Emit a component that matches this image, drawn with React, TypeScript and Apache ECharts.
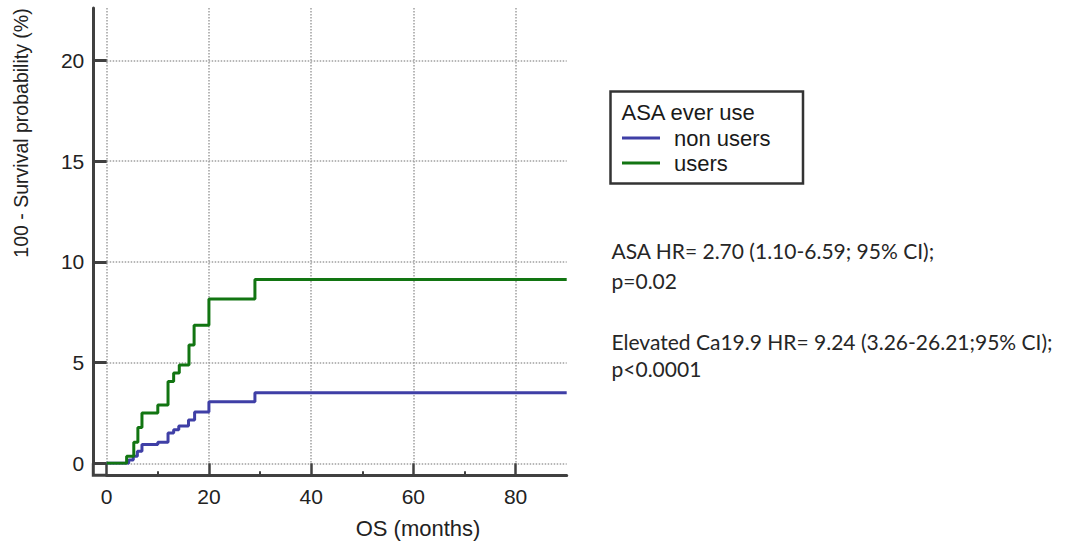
import React, { useEffect, useRef } from "react";
import * as echarts from "echarts";

// ---- data ----
const xTicks = [0, 20, 40, 60, 80];
const xMinorTicks = [10, 30, 50, 70];
const yTicks = [0, 5, 10, 15, 20];

const seriesNames = ["non users", "users"];
const nonUsersT = [0, 4.3, 5.2, 6.0, 6.9, 10.0, 12.0, 13.1, 14.1, 16.0, 17.2, 20.0, 29.0, 90];
const nonUsersV = [0, 0.17, 0.35, 0.6, 0.93, 1.05, 1.5, 1.66, 1.85, 2.15, 2.55, 3.06, 3.5, 3.5];
const usersT = [0, 3.9, 5.3, 6.1, 6.9, 10.0, 12.0, 13.1, 14.2, 16.1, 17.1, 20.0, 29.0, 90];
const usersV = [0, 0.35, 1.05, 1.78, 2.5, 2.9, 4.06, 4.48, 4.88, 5.87, 6.85, 8.16, 9.12, 9.12];

const statLines = [
  "ASA HR= 2.70 (1.10-6.59; 95% CI);",
  "p=0.02",
  "Elevated Ca19.9 HR= 9.24 (3.26-26.21;95% CI);",
  "p<0.0001",
];

const W = 1066;
const H = 546;
const GRID_LEFT = 106.7;
const GRID_TOP = 8;
const GRID_RIGHT_X = 566.7;
const GRID_BOTTOM_Y = 463.3;
const Y_OFFSET = 13.4;
const X_OFFSET = 12;
const AXIS_COLOR = "#404040";
const FONT = "'Liberation Sans', Arial, sans-serif";

export default function App() {
  const ref = useRef<HTMLDivElement>(null);

  useEffect(() => {
    if (!ref.current) return;
    const chart = echarts.init(ref.current, undefined, { renderer: "svg" });
    const zip = (t: number[], v: number[]) => t.map((x, i) => [x, v[i]]);
    const gridColor = "#a0a0a0";
    const split = (n: number) => {
      const arr: string[] = [];
      for (let i = 0; i < n; i++) arr.push(gridColor);
      arr.push("rgba(0,0,0,0)");
      return arr;
    };
    const yAxisX = GRID_LEFT - Y_OFFSET;
    const xAxisY = GRID_BOTTOM_Y + X_OFFSET;

    chart.setOption({
      animation: false,
      backgroundColor: "#ffffff",
      grid: {
        left: GRID_LEFT,
        top: GRID_TOP,
        right: W - GRID_RIGHT_X,
        bottom: H - GRID_BOTTOM_Y,
        containLabel: false,
      },
      xAxis: [
        {
          type: "value",
          min: 0,
          max: 90,
          interval: 20,
          offset: X_OFFSET,
          axisLine: { show: true, onZero: false, lineStyle: { color: AXIS_COLOR, width: 3 } },
          axisTick: {
            show: true,
            inside: true,
            length: X_OFFSET,
            customValues: xTicks,
            lineStyle: { color: AXIS_COLOR, width: 2.5 },
          },
          axisLabel: {
            customValues: xTicks,
            margin: 11,
            color: "#222",
            fontSize: 21,
            fontFamily: FONT,
          },
          splitLine: {
            show: true,
            lineStyle: { color: split(xTicks.length), width: 1.5, type: [1.5, 1.5] },
          },
        },
        {
          type: "value",
          min: 0,
          max: 90,
          position: "bottom",
          offset: X_OFFSET,
          axisLine: { show: false, onZero: false },
          axisTick: {
            show: true,
            inside: true,
            length: 4,
            customValues: xMinorTicks,
            lineStyle: { color: AXIS_COLOR, width: 2 },
          },
          axisLabel: { show: false },
          splitLine: { show: false },
        },
      ],
      yAxis: {
        type: "value",
        min: 0,
        max: 22.6,
        interval: 5,
        offset: Y_OFFSET,
        axisLine: { show: true, onZero: false, lineStyle: { color: AXIS_COLOR, width: 3 } },
        axisTick: {
          show: true,
          inside: true,
          length: Y_OFFSET,
          customValues: yTicks,
          lineStyle: { color: AXIS_COLOR, width: 3 },
        },
        axisLabel: {
          customValues: yTicks,
          margin: 9,
          color: "#222",
          fontSize: 21,
          fontFamily: FONT,
        },
        splitLine: {
          show: true,
          lineStyle: { color: split(yTicks.length), width: 1.5, type: [1.5, 1.5] },
        },
      },
      legend: {
        orient: "vertical",
        left: 622,
        top: 127,
        itemWidth: 38,
        itemHeight: 3,
        itemGap: 3,
        icon: "rect",
        padding: 0,
        textStyle: {
          fontSize: 22,
          fontFamily: FONT,
          color: "#1a1a1a",
          padding: [0, 0, 0, 9],
        },
        data: seriesNames,
      },
      series: [
        {
          name: seriesNames[0],
          type: "line",
          step: "end",
          showSymbol: false,
          data: zip(nonUsersT, nonUsersV),
          color: "#3f3fa6",
          lineStyle: { color: "#3f3fa6", width: 3 },
          z: 3,
        },
        {
          name: seriesNames[1],
          type: "line",
          step: "end",
          showSymbol: false,
          data: zip(usersT, usersV),
          color: "#127512",
          lineStyle: { color: "#127512", width: 3 },
          z: 4,
        },
      ],
      graphic: [
        {
          type: "polyline",
          shape: {
            points: [
              [yAxisX, GRID_BOTTOM_Y],
              [yAxisX, xAxisY],
              [GRID_LEFT, xAxisY],
            ],
          },
          style: { stroke: AXIS_COLOR, lineWidth: 3, fill: "none" },
          z: 10,
        },
        {
          type: "text",
          x: 21,
          y: 133,
          rotation: Math.PI / 2,
          style: {
            text: "100 - Survival probability (%)",
            fill: "#222",
            font: `19.5px ${FONT}`,
            align: "center",
            verticalAlign: "middle",
          },
        },
        {
          type: "text",
          x: 418,
          y: 528,
          style: {
            text: "OS (months)",
            fill: "#222",
            font: `22px ${FONT}`,
            align: "center",
            verticalAlign: "middle",
          },
        },
        {
          type: "rect",
          shape: { x: 610.5, y: 91.5, width: 192.5, height: 92 },
          style: { fill: "#fff", stroke: "#333", lineWidth: 2.5 },
          z: 0,
        },
        {
          type: "text",
          x: 621.5,
          y: 112,
          style: {
            text: "ASA ever use",
            fill: "#1a1a1a",
            font: `22px ${FONT}`,
            align: "left",
            verticalAlign: "middle",
          },
          z: 5,
        },
        ...statLines.map((t, i) => ({
          type: "text",
          x: 611.5,
          y: [250, 280, 341.5, 368.5][i],
          style: {
            text: t,
            fill: "#262626",
            font: `21px Lato, 'Open Sans', sans-serif`,
            align: "left",
            verticalAlign: "middle",
          },
        })),
      ],
    });
    return () => chart.dispose();
  }, []);

  return (
    <div
      ref={ref}
      style={{ position: "absolute", left: 0, top: 0, width: W, height: H, background: "#fff" }}
    />
  );
}
